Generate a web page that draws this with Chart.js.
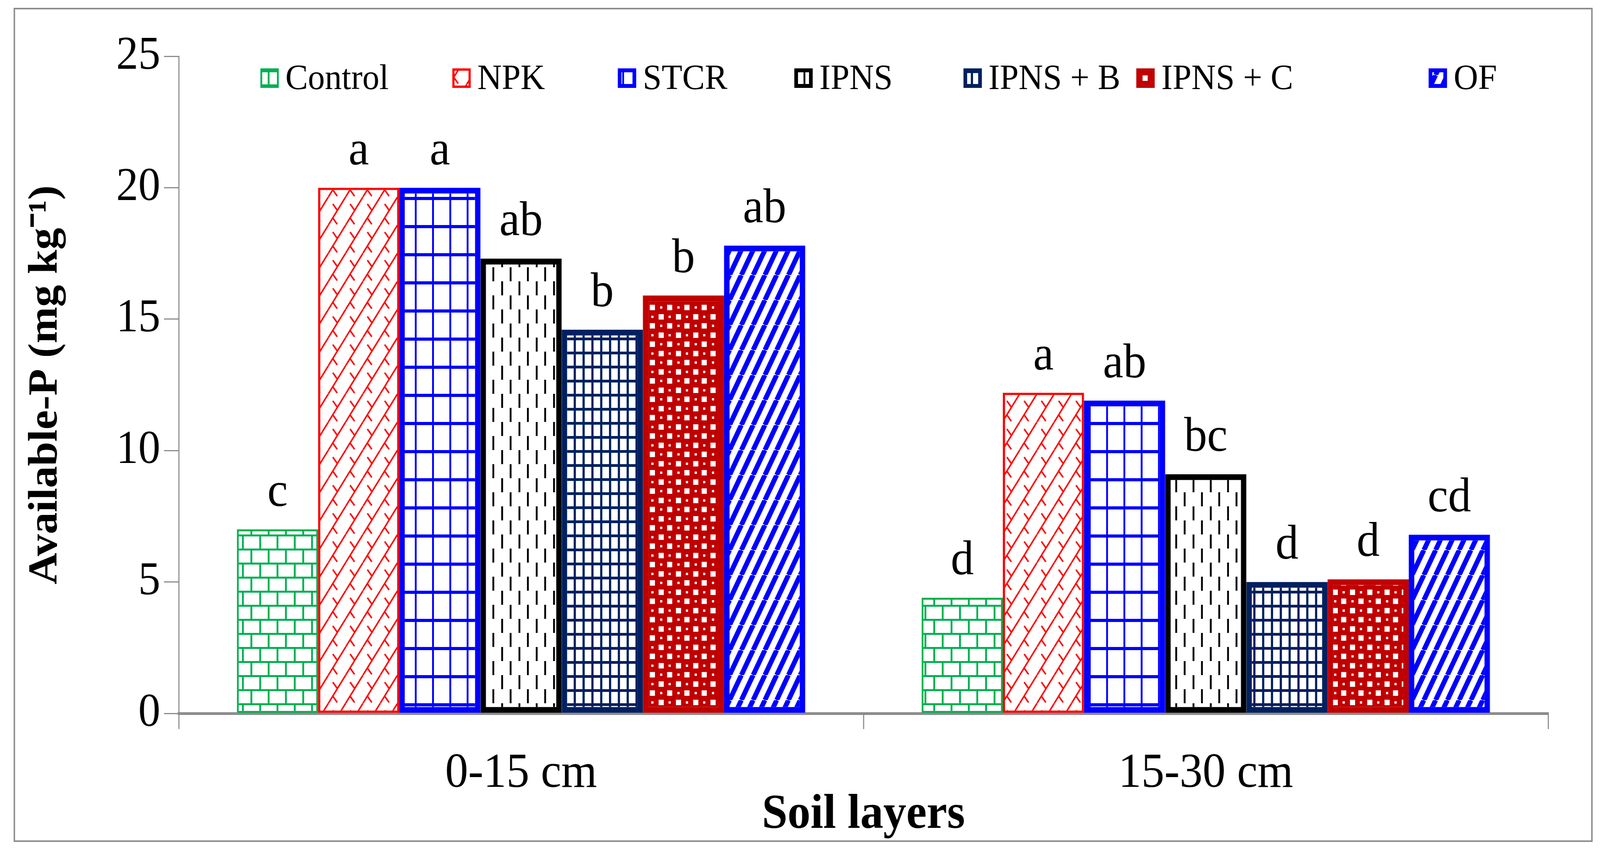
<!DOCTYPE html>
<html><head><meta charset="utf-8">
<script src="https://cdn.jsdelivr.net/npm/chart.js@4"></script>
<style>html,body{margin:0;padding:0;background:#fff;overflow:hidden}#wrap{position:absolute;left:0;top:0;width:4351px;height:2191px;transform-origin:0 0}#c{display:block}</style>
</head><body>
<div id="wrap"><canvas id="c" width="4351" height="2191" style="width:4351px;height:2191px"></canvas></div>
<script>
const categories = ['0-15 cm', '15-30 cm'];
const seriesNames = ['Control', 'NPK', 'STCR', 'IPNS', 'IPNS + B', 'IPNS + C', 'OF'];
const control = [7.0, 4.4];
const npk = [20.0, 12.2];
const stcr = [20.0, 11.9];
const ipns = [17.3, 9.1];
const ipnsB = [14.6, 5.0];
const ipnsC = [15.9, 5.1];
const of = [17.8, 6.8];
const lettersControl = ['c', 'd'];
const lettersNpk = ['a', 'a'];
const lettersStcr = ['a', 'ab'];
const lettersIpns = ['ab', 'bc'];
const lettersIpnsB = ['b', 'd'];
const lettersIpnsC = ['b', 'd'];
const lettersOf = ['ab', 'cd'];
const yTicks = [0, 5, 10, 15, 20, 25];

(function fit() {
  const w = window.innerWidth || 4351, h = window.innerHeight || 2191;
  const sx = w / 4351, sy = h / 2191;
  if (Math.abs(sx - 1) > 0.002 || Math.abs(sy - 1) > 0.002)
    document.getElementById('wrap').style.transform = 'scale(' + sx + ',' + sy + ')';
})();

const FONT = '"Liberation Serif", "Times New Roman", serif';
function tile(w, h, draw) {
  const c = document.createElement('canvas'); c.width = w; c.height = h;
  const g = c.getContext('2d'); g.fillStyle = '#fff'; g.fillRect(0, 0, w, h); draw(g);
  return document.getElementById('c').getContext('2d').createPattern(c, 'repeat');
}
const GREEN = '#00B050', RED = '#FF0000', BLUE = '#0000FF', NAVY = '#002060', DRED = '#C00000';
const pats = [
  tile(94, 72, g => { g.fillStyle = GREEN; g.fillRect(0,0,94,5); g.fillRect(0,36,94,5);
    g.fillRect(0,0,5,36); g.fillRect(47,0,5,36); g.fillRect(23,36,5,36); g.fillRect(70,36,5,36); }),
  tile(47, 72, g => { g.strokeStyle = RED; g.lineWidth = 4;
    g.beginPath(); g.moveTo(0,72); g.lineTo(47,0); g.moveTo(-47,72); g.lineTo(0,0); g.moveTo(47,72); g.lineTo(94,0); g.stroke();
    g.beginPath(); g.moveTo(12,18); g.lineTo(24,34); g.moveTo(12,54); g.lineTo(24,70); g.stroke(); }),
  tile(47, 72, g => { g.fillStyle = BLUE; g.fillRect(0,0,5,72); g.fillRect(0,0,47,8); }),
  tile(47, 72, g => { g.fillStyle = '#000'; g.fillRect(0,0,5,36); g.fillRect(23,36,5,36); }),
  tile(24, 36, g => { g.fillStyle = NAVY; g.fillRect(0,0,6,36); g.fillRect(0,0,24,7); }),
  tile(47, 47, g => { g.fillStyle = DRED; g.fillRect(0,0,47,47); g.fillStyle = '#fff';
    g.fillRect(5,5,14,14); g.fillRect(28,28,14,14); g.fillRect(32,9,6,6); g.fillRect(9,32,6,6); }),
  tile(32, 64, g => { g.strokeStyle = BLUE; g.lineWidth = 13;
    g.beginPath(); for (let k = -1; k <= 1; k++) { g.moveTo(k*32, 64); g.lineTo(k*32+32, 0); } g.stroke(); })
];
const values = [control, npk, stcr, ipns, ipnsB, ipnsC, of];
const letters = [lettersControl, lettersNpk, lettersStcr, lettersIpns, lettersIpnsB, lettersIpnsC, lettersOf];
const borders = [GREEN, RED, BLUE, '#000', NAVY, DRED, BLUE];
const bw = [5, 6, 15, 15, 15, 15, 15];
const legendX = [708, 1230, 1680, 2160, 2620, 3090, 3885];

const datasets = seriesNames.map((n, i) => ({
  label: n, data: values[i], backgroundColor: pats[i], borderColor: borders[i],
  borderWidth: bw[i], borderSkipped: false, categoryPercentage: 0.83, barPercentage: 1.0
}));

const deco = {
  id: 'deco',
  beforeDraw(chart) {
    const g = chart.ctx; g.save(); g.fillStyle = '#fff'; g.fillRect(0,0,chart.width,chart.height);
    g.strokeStyle = '#8c8c8c'; g.lineWidth = 4; g.strokeRect(39, 22, 4290, 2131); g.restore();
  },
  afterDatasetsDraw(chart) {
    const g = chart.ctx; g.save();
    g.font = '125px ' + FONT; g.fillStyle = '#000'; g.textAlign = 'center'; g.textBaseline = 'bottom';
    chart.data.datasets.forEach((ds, i) => {
      chart.getDatasetMeta(i).data.forEach((bar, j) => { g.fillText(letters[i][j], bar.x, bar.y - 30); });
    });
    g.font = '92px ' + FONT; g.textAlign = 'left'; g.textBaseline = 'middle';
    chart.data.datasets.forEach((ds, i) => {
      const x = legendX[i], y = 200, s = 50;
      g.fillStyle = ds.backgroundColor; g.fillRect(x, y - s/2, s, s);
      g.strokeStyle = ds.borderColor; g.lineWidth = Math.min(ds.borderWidth, 10);
      g.strokeRect(x + g.lineWidth/2, y - s/2 + g.lineWidth/2, s - g.lineWidth, s - g.lineWidth);
      g.fillStyle = '#000'; g.fillText(ds.label, x + s + 18, y + 4);
    });
    g.restore();
  }
};

new Chart(document.getElementById('c'), {
  type: 'bar',
  data: { labels: categories, datasets },
  options: {
    responsive: false, animation: false, devicePixelRatio: 1,
    layout: { padding: { left: 0, top: 144, right: 141, bottom: 29 } },
    plugins: { legend: { display: false }, tooltip: { enabled: false } },
    scales: {
      x: {
        afterFit(s) { s.height = 336; },
        grid: { display: true, drawOnChartArea: false, offset: true, tickLength: 40, color: '#8c8c8c', lineWidth: 3 },
        border: { color: '#8c8c8c', width: 7 },
        ticks: { font: { family: FONT, size: 125 }, color: '#000', padding: 40 },
        title: { display: true, text: 'Soil layers', font: { family: FONT, size: 125, weight: 'bold' }, color: '#000', padding: 0 }
      },
      y: {
        min: 0, max: 25,
        afterFit(s) { s.width = 486; },
        afterBuildTicks(s) { s.ticks = yTicks.map(v => ({ value: v })); },
        grid: { display: true, drawOnChartArea: false, tickLength: 40, color: '#8c8c8c', lineWidth: 3 },
        border: { color: '#8c8c8c', width: 3 },
        ticks: { font: { family: FONT, size: 120 }, color: '#000', padding: 10 },
        title: { display: true, text: 'Available-P (mg kg⁻¹)', font: { family: FONT, size: 112, weight: 'bold' }, color: '#000', padding: { top: 58, bottom: 0 } }
      }
    }
  },
  plugins: [deco]
});
</script>
</body></html>
